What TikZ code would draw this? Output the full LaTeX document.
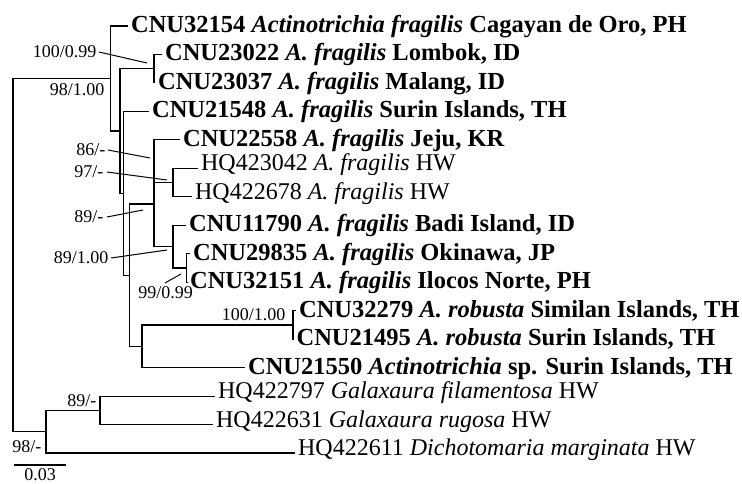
\documentclass[tikz,border=0pt]{standalone}
\usepackage{fontspec}
\setmainfont{Liberation Serif}
\begin{document}
\begin{tikzpicture}[x=1pt,y=-1pt,line width=1.2pt,
  branch/.style={draw=black,line width=1.2pt},
  leader/.style={draw=black,line width=1pt},
  tiplab/.style={anchor=base west,inner sep=0pt,xshift=2.5pt,yshift=-2.5pt,font=\fontsize{24}{28}\selectfont},
  boldlab/.style={tiplab,yshift=-4pt,font=\fontsize{24.5}{29}\selectfont\bfseries},
  suplab/.style={inner sep=0pt,font=\fontsize{18}{21}\selectfont}]
\useasboundingbox (0,0) rectangle (742,484);
% tips
\coordinate (t0) at (128,26.0);
\coordinate (t1) at (162,54.5);
\coordinate (t2) at (155,82.9);
\coordinate (t3) at (149,111.4);
\coordinate (t4) at (180,139.9);
\coordinate (t5) at (198,168.4);
\coordinate (t6) at (192,196.8);
\coordinate (t7) at (186,225.3);
\coordinate (t8) at (190,253.8);
\coordinate (t9) at (187,282.2);
\coordinate (t10) at (296,310.7);
\coordinate (t11) at (293.5,339.2);
\coordinate (t12) at (245,367.6);
\coordinate (t13) at (215,396.1);
\coordinate (t14) at (213,424.6);
\coordinate (t15) at (295,453.0);
% internal nodes
\coordinate (P23) at (154,68.7);
\coordinate (HQc) at (173,182.6);
\coordinate (G1) at (154,161.3);
\coordinate (P29) at (186.5,268.0);
\coordinate (H) at (173,246.7);
\coordinate (E) at (154,204.0);
\coordinate (Rob) at (293,325.0);
\coordinate (F) at (142,346.4);
\coordinate (D) at (129.5,275.2);
\coordinate (C) at (123.5,193.3);
\coordinate (B) at (120,131.0);
\coordinate (A) at (110.5,78.5);
\coordinate (Gal) at (100,410.3);
\coordinate (O) at (46,431.7);
\coordinate (Root) at (13,255);
% branches
\draw[branch] (t0) -| (A) |- (B);
\draw[branch] (P23) -| (B) |- (C);
\draw[branch] (t1) -| (P23) |- (t2);
\draw[branch] (t3) -| (C) |- (D);
\draw[branch] (E) -| (D) |- (F);
\draw[branch] (G1) -| (E) |- (H);
\draw[branch] (t4) -| (G1) |- (HQc);
\draw[branch] (t5) -| (HQc) |- (t6);
\draw[branch] (t7) -| (H) |- (P29);
\draw[branch] (t8) -| (P29) |- (t9);
\draw[branch] (Rob) -| (F) |- (t12);
\draw[branch] (t10) -| (Rob) |- (t11);
\draw[branch] (A) -| (Root) |- (O);
\draw[branch] (Gal) -| (O) |- (t15);
\draw[branch] (t13) -| (Gal) |- (t14);
% tip labels
\node[boldlab] (L0) at (t0) {CNU32154 \textit{Actinotrichia fragilis} Cagayan de Oro, PH};
\node[boldlab] (L1) at (t1) {CNU23022 \textit{A. fragilis} Lombok, ID};
\node[boldlab] (L2) at (t2) {CNU23037 \textit{A. fragilis} Malang, ID};
\node[boldlab] (L3) at (t3) {CNU21548 \textit{A. fragilis} Surin Islands, TH};
\node[boldlab] (L4) at (t4) {CNU22558 \textit{A. fragilis} Jeju, KR};
\node[tiplab] (L5) at (t5) {HQ423042 \textit{A. fragilis} HW};
\node[tiplab] (L6) at (t6) {HQ422678 \textit{A. fragilis} HW};
\node[boldlab] (L7) at (t7) {CNU11790 \textit{A. fragilis} Badi Island, ID};
\node[boldlab] (L8) at (t8) {CNU29835 \textit{A. fragilis} Okinawa, JP};
\node[boldlab] (L9) at (t9) {CNU32151 \textit{A. fragilis} Ilocos Norte, PH};
\node[boldlab] (L10) at (t10) {CNU32279 \textit{A. robusta} Similan Islands, TH};
\node[boldlab] (L11) at (t11) {CNU21495 \textit{A. robusta} Surin Islands, TH};
\node[boldlab] (L12) at (t12) {CNU21550 \textit{Actinotrichia} sp. Surin Islands, TH};
\node[tiplab] (L13) at (t13) {HQ422797 \textit{Galaxaura filamentosa} HW};
\node[tiplab] (L14) at (t14) {HQ422631 \textit{Galaxaura rugosa} HW};
\node[tiplab] (L15) at (t15) {HQ422611 \textit{Dichotomaria marginata} HW};
% support labels
\node[suplab,anchor=east] (s1) at (97,52) {100/0.99};
\coordinate (s1e) at (147,63);
\draw[leader] ([xshift=2pt]s1.east) -- (s1e);
\node[suplab,anchor=east] (s2) at (105,90) {98/1.00};
\node[suplab,anchor=east] (s3) at (106,150) {86/-};
\coordinate (s3e) at (150,158);
\draw[leader] ([xshift=2pt]s3.east) -- (s3e);
\node[suplab,anchor=east] (s4) at (104,172) {97/-};
\coordinate (s4e) at (167,180);
\draw[leader] ([xshift=3pt]s4.east) -- (s4e);
\node[suplab,anchor=east] (s5) at (104,217) {89/-};
\coordinate (s5e) at (143,210);
\draw[leader] ([xshift=3pt]s5.east) -- (s5e);
\node[suplab,anchor=east] (s6) at (109,258) {89/1.00};
\coordinate (s6e) at (167,250);
\draw[leader] ([xshift=2pt]s6.east) -- (s6e);
\node[suplab] (s7) at (165.5,293) {99/0.99};
\coordinate (s7a) at (165,283);
\coordinate (s7e) at (181,274);
\draw[leader] (s7a) -- (s7e);
\node[suplab,anchor=east] (s8) at (286,315) {100/1.00};
\node[suplab,anchor=east] (s9) at (97,401) {89/-};
\node[suplab,anchor=east] (s10) at (42,447) {98/-};
% scale bar
\coordinate (sb1) at (14,465);
\coordinate (sb2) at (66,465);
\draw[branch] (sb1) -- (sb2);
\node[suplab] (sbl) at (40,475) {0.03};
\end{tikzpicture}
\end{document}
